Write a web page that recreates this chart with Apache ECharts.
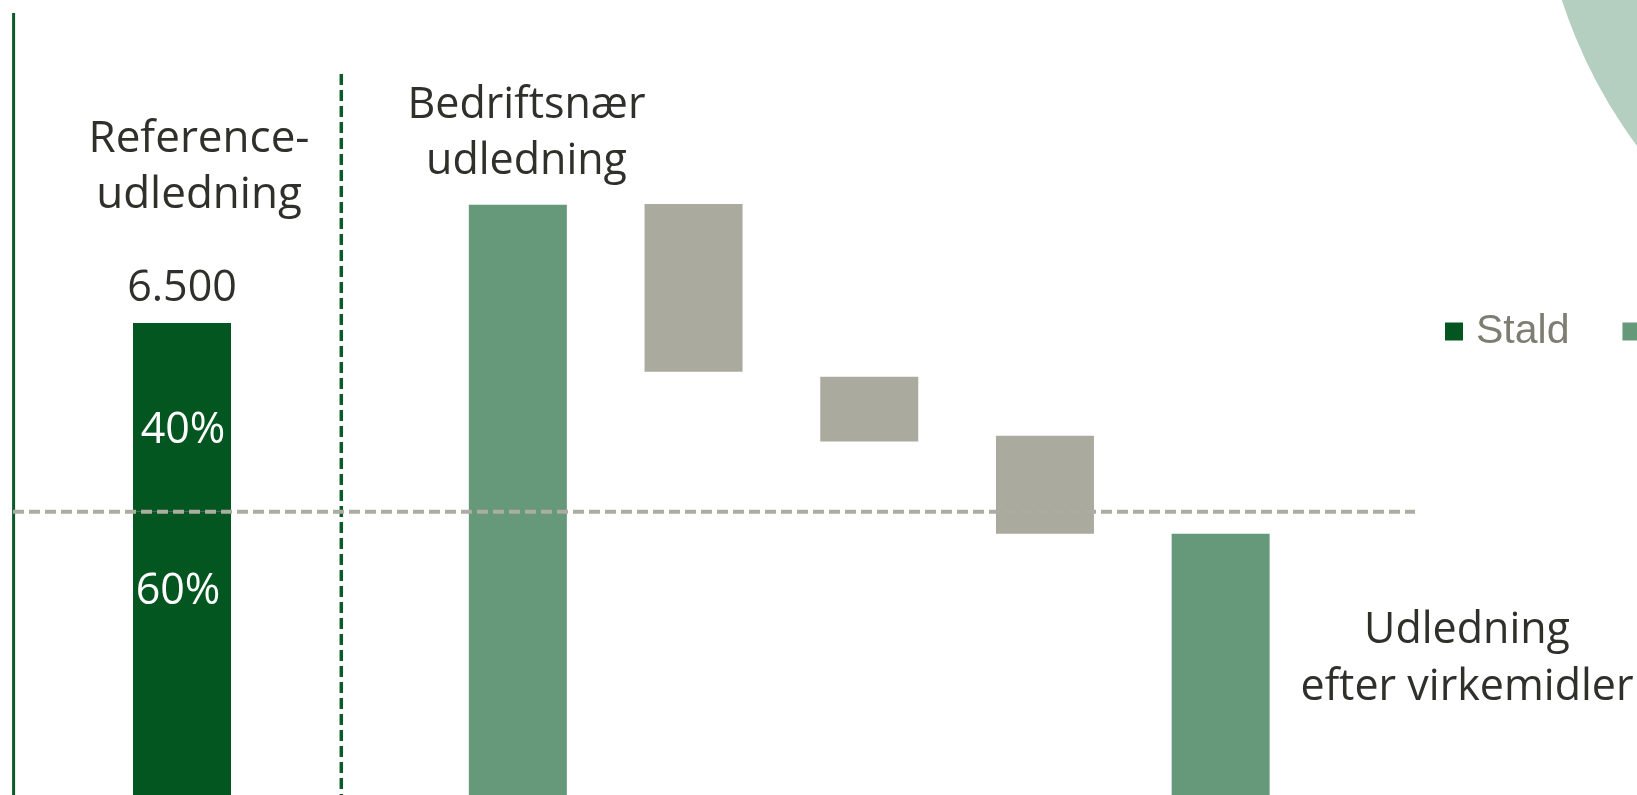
<!DOCTYPE html>
<html>
<head>
<meta charset="utf-8">
<script src="https://cdn.jsdelivr.net/npm/echarts@6/dist/echarts.min.js"></script>
<style>
  html, body { margin: 0; padding: 0; background: #fff; }
  #main { width: 1637px; height: 795px; }
</style>
</head>
<body>
<div id="main"></div>
<script>
// data
const refCategory = ['Reference-\nudledning'];
const refTotal = [6500];
const refShares = [60, 40];          // bund (stald) og top, i procent
const wfCategories = ['Bedriftsnær\nudledning', 'Virkemiddel 1', 'Virkemiddel 2', 'Virkemiddel 3', 'Udledning\nefter virkemidler'];
const wfBase = [0, 5830, 4870, 3600, 0];          // usynlig bund under faldene
const wfReduction = ['-', 2310, 890, 1350, '-'];  // grå kasser
const wfLevel = [8130, '-', '-', '-', 3600];      // grønne søjler
const legendNames = ['Stald', 'Mark'];

const dark = '#03561f';
const mid = '#66997a';
const grey = '#aaaa9f';
const textCol = '#30302b';
const font = '"Open Sans", "Noto Sans", sans-serif';

// 6500 -> "6.500"
function fmt(v) {
	return String(v).replace(/\B(?=(\d{3})+(?!\d))/g, '.');
}

const stald = refTotal[0] * refShares[0] / 100;
const rest = refTotal[0] * refShares[1] / 100;

let myChart = echarts.init(document.getElementById('main'));
const option = {
	animation: false,
	legend: {
		data: legendNames,
		left: 1445,
		top: 311,
		width: 500,
		padding: 0,
		icon: 'rect',
		itemWidth: 18,
		itemHeight: 18,
		itemGap: 53,
		selectedMode: false,
		textStyle: {
			fontFamily: '"Liberation Sans", Arial, sans-serif',
			fontSize: 41,
			color: '#7d7d72',
			padding: [0, 0, 0, 8]
		}
	},
	grid: [
		{ left: 23, width: 318, top: 69, bottom: 0 },      // referencesøjle
		{ left: 430, right: 328.5, top: 69, bottom: 0 },   // vandfald
		{ left: 13, right: 222, top: 69, bottom: 0 }       // stiplet 60%-linje
	],
	xAxis: [
		{ type: 'category', gridIndex: 0, data: refCategory, show: false },
		{ type: 'category', gridIndex: 1, data: wfCategories, show: false },
		{ type: 'value', gridIndex: 2, min: 0, max: 1, show: false }
	],
	yAxis: [
		{ type: 'value', gridIndex: 0, min: 0, max: 10000, show: false },
		{ type: 'value', gridIndex: 1, min: 0, max: 10000, show: false },
		{ type: 'value', gridIndex: 2, min: 0, max: 10000, show: false }
	],
	series: [
		{
			name: 'Stald',
			type: 'bar',
			xAxisIndex: 0, yAxisIndex: 0,
			stack: 'ref',
			barWidth: 98,
			data: [stald],
			itemStyle: { color: dark },
			label: {
				show: true, position: 'inside', offset: [-4, -62],
				formatter: refShares[0] + '%',
				color: '#fff', fontSize: 43, fontFamily: font
			}
		},
		{
			name: 'Stald',
			type: 'bar',
			xAxisIndex: 0, yAxisIndex: 0,
			stack: 'ref',
			barWidth: 98,
			data: [rest],
			itemStyle: { color: dark },
			label: {
				show: true, position: 'inside', offset: [1, 13],
				formatter: refShares[1] + '%',
				color: '#fff', fontSize: 43, fontFamily: font
			}
		},
		{
			// total over søjlen
			name: 'total',
			type: 'scatter',
			xAxisIndex: 0, yAxisIndex: 0,
			symbolSize: 1,
			itemStyle: { color: 'rgba(0,0,0,0)', opacity: 1 },
			data: refTotal,
			label: {
				show: true, position: 'top', distance: 12,
				formatter: function (p) { return fmt(p.value); },
				color: textCol, fontSize: 43, fontFamily: font
			}
		},
		{
			name: 'base',
			type: 'bar',
			xAxisIndex: 1, yAxisIndex: 1,
			stack: 'wf',
			barWidth: 98,
			silent: true,
			itemStyle: { color: 'rgba(0,0,0,0)' },
			data: wfBase
		},
		{
			name: 'Virkemidler',
			type: 'bar',
			xAxisIndex: 1, yAxisIndex: 1,
			stack: 'wf',
			barWidth: 98,
			itemStyle: { color: grey },
			data: wfReduction
		},
		{
			name: 'Mark',
			type: 'bar',
			xAxisIndex: 1, yAxisIndex: 1,
			stack: 'wf',
			barWidth: 98,
			itemStyle: { color: mid },
			data: wfLevel
		},
		{
			name: 'andel',
			type: 'line',
			xAxisIndex: 2, yAxisIndex: 2,
			symbol: 'none',
			silent: true,
			z: 3,
			lineStyle: { color: '#acaca3', width: 4, type: [11, 5], cap: 'butt' },
			data: [[0, stald], [1, stald]]
		}
	],
	graphic: [
		{
			type: 'circle', z: -10, silent: true,
			shape: { cx: 2046, cy: -157, r: 509 },
			style: { fill: '#b4cebf' }
		},
		{
			type: 'line', silent: true,
			shape: { x1: 13.6, y1: 13, x2: 13.6, y2: 795 },
			style: { stroke: '#0b5a28', lineWidth: 3 }
		},
		{
			type: 'line', silent: true,
			shape: { x1: 341.3, y1: 74, x2: 341.3, y2: 795 },
			style: { stroke: '#0b5a28', lineWidth: 3.5, lineDash: [11, 5] }
		},
		{
			type: 'text', x: 199, y: 167,
			style: {
				text: refCategory[0], fill: textCol, fontSize: 44, fontFamily: font,
				align: 'center', verticalAlign: 'middle', lineHeight: 56
			}
		},
		{
			type: 'text', x: 526.5, y: 134,
			style: {
				text: wfCategories[0], fill: textCol, fontSize: 43, fontFamily: font,
				align: 'center', verticalAlign: 'middle', lineHeight: 56
			}
		},
		{
			type: 'text', x: 1467, y: 659,
			style: {
				text: wfCategories[4], fill: textCol, fontSize: 43, fontFamily: font,
				align: 'center', verticalAlign: 'middle', lineHeight: 57
			}
		}
	]
};
myChart.setOption(option);
window.addEventListener('resize', function () {
	myChart.resize();
});
</script>
</body>
</html>
